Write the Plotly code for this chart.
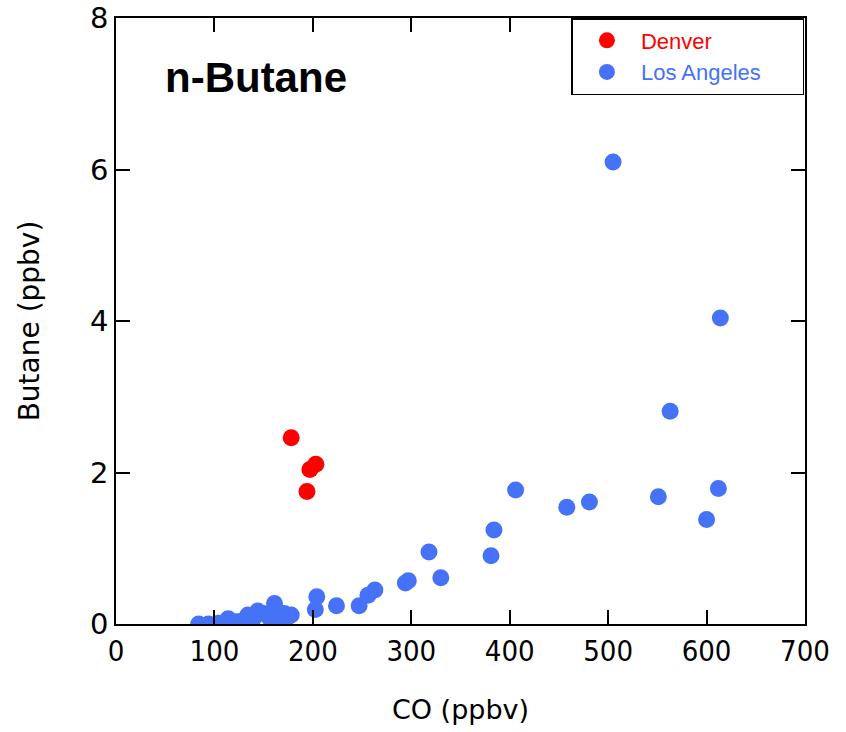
import plotly.graph_objects as go

denver_co = [178, 203, 197, 194]
denver_butane = [2.46, 2.11, 2.04, 1.75]

la_co = [84, 94, 104, 110, 114, 120, 124, 130, 134, 140, 144, 150, 156, 161, 164, 168, 171, 175, 178,
         202.5, 204, 224, 247, 256, 263, 294, 297, 318, 330, 381, 384, 406, 458, 481, 505, 551, 563, 600, 612, 614]
la_butane = [0.0, 0.0, 0.01, 0.02, 0.07, 0.03, 0.03, 0.05, 0.12, 0.08, 0.17, 0.14, 0.08, 0.27, 0.17, 0.04, 0.14, 0.10, 0.12,
             0.19, 0.36, 0.24, 0.24, 0.38, 0.45, 0.54, 0.57, 0.95, 0.61, 0.90, 1.24, 1.77, 1.54, 1.61, 6.10, 1.68, 2.81, 1.38, 1.79, 4.04]

x_ticks = [0, 100, 200, 300, 400, 500, 600, 700]
y_ticks = [0, 2, 4, 6, 8]

RED = "#ff0000"
BLUE = "#4672f7"
pad = "&nbsp;" * 6

fig = go.Figure()
fig.add_trace(go.Scatter(x=denver_co, y=denver_butane, mode="markers",
                         marker=dict(color=RED, size=17),
                         name=f"<span style='color:{RED}'>Denver</span>" + pad))
fig.add_trace(go.Scatter(x=la_co, y=la_butane, mode="markers",
                         marker=dict(color=BLUE, size=17),
                         name=f"<span style='color:{BLUE}'>Los Angeles</span>" + pad))

axis_common = dict(showline=True, linecolor="black", linewidth=1.5, mirror="ticks",
                   ticks="inside", ticklen=14, tickwidth=1.5, tickcolor="black",
                   showgrid=False, zeroline=False, automargin=False)

fig.update_layout(
    width=846, height=732,
    margin=dict(l=116, r=41, t=18, b=108, autoexpand=False),
    plot_bgcolor="white", paper_bgcolor="white",
    xaxis=dict(range=[0, 700], tickvals=x_ticks,
               tickfont=dict(family="DejaVu Sans Condensed, DejaVu Sans", size=29, color="black"),
               title=dict(text="CO (ppbv)", standoff=34,
                          font=dict(family="DejaVu Sans", size=27, color="black")),
               **axis_common),
    yaxis=dict(range=[0, 8], tickvals=y_ticks,
               tickfont=dict(family="DejaVu Sans", size=29, color="black"),
               title=dict(text="Butane (ppbv)", standoff=42,
                          font=dict(family="DejaVu Sans", size=28, color="black")),
               **axis_common),
    legend=dict(x=0.661, y=1.0, xanchor="left", yanchor="top",
                bordercolor="black", borderwidth=1.5, bgcolor="white",
                font=dict(family="Liberation Sans, Arial", size=22),
                itemsizing="trace", itemwidth=58, tracegroupgap=0),
    annotations=[dict(text="<b>n-Butane</b>", x=0.068, y=0.902, xref="paper", yref="paper",
                      xanchor="left", yanchor="middle", showarrow=False,
                      font=dict(family="Liberation Sans, Arial", size=42, color="black"))],
)

fig.write_html("out.html")
